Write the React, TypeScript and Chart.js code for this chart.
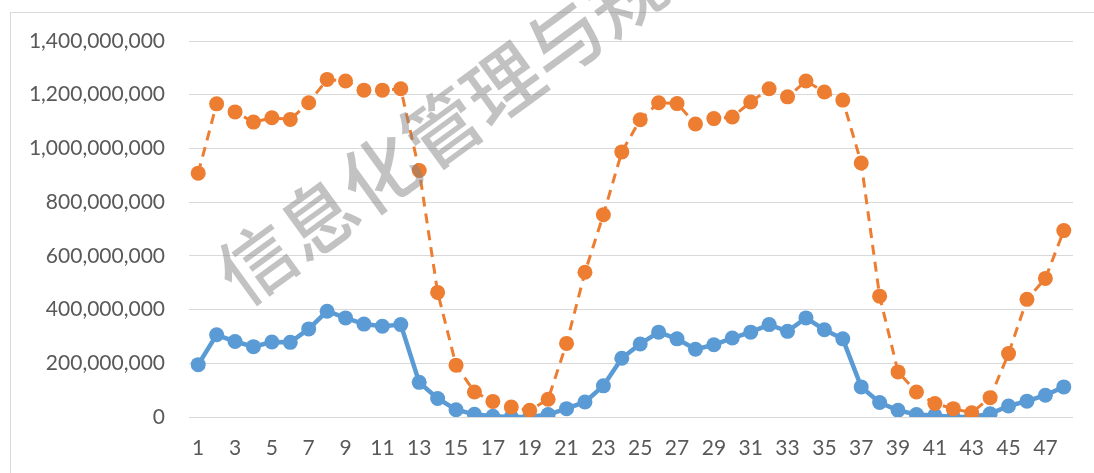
import React, { useEffect, useRef } from "react";
import { Chart, registerables } from "chart.js";

Chart.register(...registerables);

const categories: string[] = Array.from({ length: 48 }, (_, i) => String(i + 1));

const seriesBlue: number[] = [
  195e6, 306e6, 281e6, 262e6, 279e6, 278e6, 328e6, 394e6, 369e6, 346e6, 338e6, 344e6,
  129e6, 69e6, 27e6, 10e6, 3e6, 0, 0, 9e6, 31e6, 56e6, 116e6, 219e6,
  272e6, 316e6, 291e6, 252e6, 269e6, 294e6, 316e6, 344e6, 319e6, 369e6, 325e6, 291e6,
  112e6, 54e6, 25e6, 9e6, 6e6, 0, 0, 12e6, 41e6, 59e6, 81e6, 112e6,
];

const seriesOrange: number[] = [
  908e6, 1166e6, 1136e6, 1098e6, 1114e6, 1108e6, 1170e6, 1257e6, 1251e6, 1217e6, 1217e6, 1222e6,
  918e6, 464e6, 193e6, 93e6, 58e6, 37e6, 25e6, 66e6, 274e6, 539e6, 753e6, 987e6,
  1107e6, 1170e6, 1167e6, 1091e6, 1111e6, 1117e6, 1173e6, 1222e6, 1192e6, 1251e6, 1210e6, 1180e6,
  946e6, 450e6, 168e6, 93e6, 50e6, 31e6, 16e6, 72e6, 236e6, 438e6, 516e6, 694e6,
];

const yMin = 0;
const yMax = 1400000000;
const yStep = 200000000;

const watermarkText = "信息化管理与规划";

const FONT = "Lato, 'Open Sans', sans-serif";

export default function App() {
  const ref = useRef<HTMLCanvasElement | null>(null);

  useEffect(() => {
    const canvas = ref.current;
    if (!canvas) return;

    const decor = {
      id: "decor",
      beforeDraw(chart: any) {
        const ctx = chart.ctx;
        ctx.save();
        ctx.fillStyle = "#ffffff";
        ctx.fillRect(0, 0, chart.width, chart.height);
        ctx.strokeStyle = "#d9d9d9";
        ctx.lineWidth = 1;
        ctx.strokeRect(10.5, 12.5, 1200, 600);
        ctx.restore();
      },
      afterDatasetsDraw(chart: any) {
        const ctx = chart.ctx;
        ctx.save();
        ctx.translate(226, 285);
        ctx.rotate((-36 * Math.PI) / 180);
        ctx.font = "500 76px 'Noto Sans CJK SC'";
        ctx.fillStyle = "rgba(128,128,128,0.48)";
        ctx.textAlign = "left";
        ctx.textBaseline = "middle";
        ctx.fillText(watermarkText, 0, 0);
        ctx.restore();
      },
    };

    const chart = new Chart(canvas, {
      type: "line",
      data: {
        labels: categories,
        datasets: [
          {
            label: "A",
            data: seriesBlue,
            borderColor: "#5B9BD5",
            backgroundColor: "#5B9BD5",
            borderWidth: 4.5,
            pointRadius: 7.5,
            pointBorderWidth: 0,
            pointBackgroundColor: "#5B9BD5",
            tension: 0,
            order: 1,
          },
          {
            label: "B",
            data: seriesOrange,
            borderColor: "#ED7D31",
            backgroundColor: "#ED7D31",
            borderWidth: 3,
            borderDash: [10, 7],
            pointRadius: 7.5,
            pointBorderWidth: 0,
            pointBackgroundColor: "#ED7D31",
            tension: 0,
            order: 0,
          },
        ],
      },
      options: {
        responsive: false,
        animation: false,
        layout: { padding: { left: 0, right: 21, top: 41, bottom: 0 } },
        plugins: {
          legend: { display: false },
          tooltip: { enabled: false },
        },
        scales: {
          x: {
            offset: true,
            grid: { display: false, drawTicks: false },
            border: { display: false },
            ticks: {
              autoSkip: false,
              maxRotation: 0,
              padding: 19,
              color: "#595959",
              font: { family: FONT, size: 21 },
              callback: (_v: any, i: number) => (i % 2 === 0 ? categories[i] : ""),
            },
            afterFit: (s: any) => {
              s.height = 56;
            },
          },
          y: {
            min: yMin,
            max: yMax,
            grid: { color: "#d9d9d9", lineWidth: 1, drawTicks: false },
            border: { display: false },
            ticks: {
              stepSize: yStep,
              padding: 24,
              color: "#595959",
              font: { family: FONT, size: 21 },
              callback: (v: any) => Number(v).toLocaleString("en-US"),
            },
            afterFit: (s: any) => {
              s.width = 189;
            },
          },
        },
      },
      plugins: [decor],
    });

    return () => chart.destroy();
  }, []);

  return (
    <div style={{ position: "absolute", left: 0, top: 0, width: 1094, height: 473 }}>
      <canvas ref={ref} width={1094} height={473} />
    </div>
  );
}
